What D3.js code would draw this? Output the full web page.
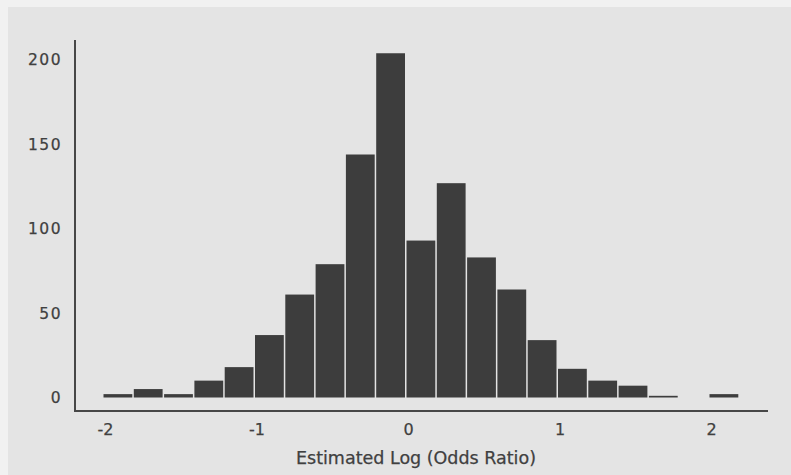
<!DOCTYPE html>
<html>
<head>
<meta charset="utf-8">
<script src="https://cdn.jsdelivr.net/npm/d3@7"></script>
<style>
  html, body { margin: 0; padding: 0; background: #f1f1f1; }
  svg { display: block; }
  .tick text { font-family: "DejaVu Sans", sans-serif; fill: #404040; stroke: #404040; stroke-width: 0.25; }
</style>
</head>
<body>
<svg id="chart"></svg>
<script>
// histogram of estimated log odds ratios, bins of 0.2 from -2 to 2.2
var binStarts = [-2.0, -1.8, -1.6, -1.4, -1.2, -1.0, -0.8, -0.6, -0.4, -0.2,
                 0.0, 0.2, 0.4, 0.6, 0.8, 1.0, 1.2, 1.4, 1.6, 1.8, 2.0];
var counts = [2, 5, 2, 10, 18, 37, 61, 79, 144, 204,
              93, 127, 83, 64, 34, 17, 10, 7, 1, 0, 2];
var binWidth = 0.2;
var xTicks = [-2, -1, 0, 1, 2];
var yTicks = [0, 50, 100, 150, 200];
var xTitle = 'Estimated Log (Odds Ratio)';

var width = 791;
var height = 475;

var svg = d3.select('#chart')
  .attr('width', width)
  .attr('height', height);

// scanned page tone
svg.append('rect')
  .attr('x', 8).attr('y', 7)
  .attr('width', width - 8).attr('height', height - 7)
  .attr('fill', '#e4e4e4');

var x = d3.scaleLinear().domain([-2, 2]).range([103, 709]);
var y = d3.scaleLinear().domain([0, 200]).range([397.5, 60]);

var axisLeftX = 75;
var axisBottomY = 411;

// bars
svg.selectAll('.bar')
  .data(binStarts)
  .enter().append('rect')
    .attr('class', 'bar')
    .attr('x', function (d) { return x(d) + 0.5; })
    .attr('width', function (d) { return x(d + binWidth) - x(d) - 1.5; })
    .attr('y', function (d, i) { return y(counts[i]); })
    .attr('height', function (d, i) { return y(0) - y(counts[i]); })
    .attr('fill', '#3d3d3d');

// axis lines
svg.append('line')
  .attr('x1', axisLeftX).attr('x2', axisLeftX)
  .attr('y1', 40).attr('y2', axisBottomY)
  .attr('stroke', '#474747').attr('stroke-width', 2);
svg.append('line')
  .attr('x1', axisLeftX - 1).attr('x2', 768)
  .attr('y1', axisBottomY).attr('y2', axisBottomY)
  .attr('stroke', '#474747').attr('stroke-width', 2);

// tick labels
var xAxis = d3.axisBottom(x)
  .tickValues(xTicks)
  .tickSize(0)
  .tickPadding(0)
  .tickFormat(function (d) { return d < 0 ? '-' + (-d) : String(d); });

var gx = svg.append('g')
  .attr('transform', 'translate(2,' + 424 + ')')
  .call(xAxis);
gx.select('.domain').remove();
gx.selectAll('text')
  .attr('font-size', 16)
  .attr('dy', '0.71em');

var yAxis = d3.axisLeft(y)
  .tickValues(yTicks)
  .tickSize(0)
  .tickPadding(0);

var gy = svg.append('g')
  .attr('transform', 'translate(62,0)')
  .call(yAxis);
gy.select('.domain').remove();
gy.selectAll('text')
  .attr('font-size', 15.5)
  .attr('letter-spacing', 1.5);

// axis title
svg.append('text')
  .attr('x', 416)
  .attr('y', 464)
  .attr('text-anchor', 'middle')
  .attr('font-family', '"DejaVu Sans", sans-serif')
  .attr('font-size', 17.5)
  .attr('fill', '#404040')
  .attr('stroke', '#404040')
  .attr('stroke-width', 0.25)
  .text(xTitle);
</script>
</body>
</html>
